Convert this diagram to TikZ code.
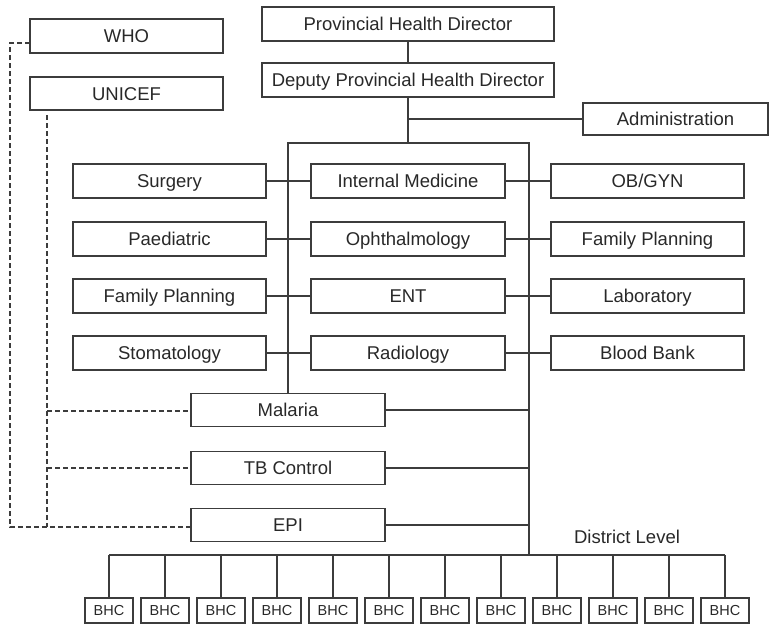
\documentclass[tikz,border=0pt]{standalone}
\usepackage{fontspec}
\setmainfont{Liberation Sans}
\usetikzlibrary{calc}
\definecolor{ln}{RGB}{60,60,60}
\definecolor{tx}{RGB}{40,40,40}
\begin{document}
\begin{tikzpicture}[x=1pt,y=-1pt,
  box/.style={draw=ln,line width=1.3pt,text=tx,minimum height=34pt,inner sep=0pt,text height=13.2pt,text depth=0pt,font=\fontsize{18.5}{21}\selectfont},
  bhc/.style={draw=ln,line width=1.1pt,text=tx,minimum width=48pt,minimum height=25pt,inner sep=0pt,text height=10.4pt,text depth=0pt,font=\fontsize{14.5}{16}\selectfont},
  conn/.style={draw=ln,line width=1.2pt},
  dashline/.style={draw=ln,line width=1.1pt,dash pattern=on 5pt off 3pt}]
\useasboundingbox (0,0) rectangle (769,624);
% top
\node[box,minimum width=193pt] (who) at (126.5,36) {WHO};
\node[box,minimum width=193pt,minimum height=33pt] (unicef) at (126.5,93.5) {UNICEF};
\node[box,minimum width=292pt] (phd) at (408,24) {Provincial Health Director};
\node[box,minimum width=292pt] (dphd) at (408,80) {Deputy Provincial Health Director};
\node[box,minimum width=185pt,minimum height=32pt] (admin) at (675.5,119) {Administration};
% rows
\node[box,minimum width=193pt] (l1) at (169.5,181) {Surgery};
\node[box,minimum width=194pt] (m1) at (408,181) {Internal Medicine};
\node[box,minimum width=193pt] (r1) at (647.5,181) {OB/GYN};
\node[box,minimum width=193pt] (l2) at (169.5,239) {Paediatric};
\node[box,minimum width=194pt] (m2) at (408,239) {Ophthalmology};
\node[box,minimum width=193pt] (r2) at (647.5,239) {Family Planning};
\node[box,minimum width=193pt] (l3) at (169.5,296) {Family Planning};
\node[box,minimum width=194pt] (m3) at (408,296) {ENT};
\node[box,minimum width=193pt] (r3) at (647.5,296) {Laboratory};
\node[box,minimum width=193pt] (l4) at (169.5,353) {Stomatology};
\node[box,minimum width=194pt] (m4) at (408,353) {Radiology};
\node[box,minimum width=193pt] (r4) at (647.5,353) {Blood Bank};
% programmes
\node[box,minimum width=194pt,minimum height=33pt] (mal) at (288,410) {Malaria};
\node[box,minimum width=194pt,minimum height=33pt] (tb) at (288,468) {TB Control};
\node[box,minimum width=194pt,minimum height=33pt] (epi) at (288,525) {EPI};
% district
\node[text=tx,font=\fontsize{18.5}{21}\selectfont,inner sep=0pt,text height=13.2pt,text depth=0pt] (dl) at (627,537) {District Level};
\foreach \i in {0,...,11} {
  \node[bhc] (b\i) at ({109+56*\i},610.5) {BHC};
}
% bus coordinates
\coordinate (bl) at (287,143);
\coordinate (br) at (529,143);
\coordinate (db) at (529,555);
\coordinate (dl0) at (109,555);
\coordinate (dl11) at (725,555);
% solid connectors
\draw[conn] (phd) -- (dphd);
\draw[conn] (dphd.south) -- (dphd.south |- bl);
\draw[conn] (dphd.south |- admin.west) -- (admin.west);
\draw[conn] (mal.north) -- (mal.north |- bl) -- (br) -- (db);
\foreach \r in {1,2,3,4} {
  \draw[conn] (l\r.east) -- (m\r.west);
  \draw[conn] (m\r.east) -- (r\r.west);
}
\draw[conn] (mal.east) -- (mal.east -| br);
\draw[conn] (tb.east) -- (tb.east -| br);
\draw[conn] (epi.east) -- (epi.east -| br);
\draw[conn] (dl0) -- (dl11);
\foreach \i in {0,...,11} {
  \draw[conn] (b\i.north |- dl0) -- (b\i.north);
}
% dashed connectors
\coordinate (w1) at (30,43);
\coordinate (w2) at (10,43);
\coordinate (w3) at (10,527);
\coordinate (u1) at (47,115);
\coordinate (u2) at (47,527);
\draw[dashline] (w1) -- (w2) -- (w3) -- (epi.west |- w3);
\draw[dashline] (u1) -- (u2);
\draw[dashline] (u1 |- 0,411) -- (mal.west |- 0,411);
\draw[dashline] (u1 |- tb.west) -- (tb.west);
\end{tikzpicture}
\end{document}
